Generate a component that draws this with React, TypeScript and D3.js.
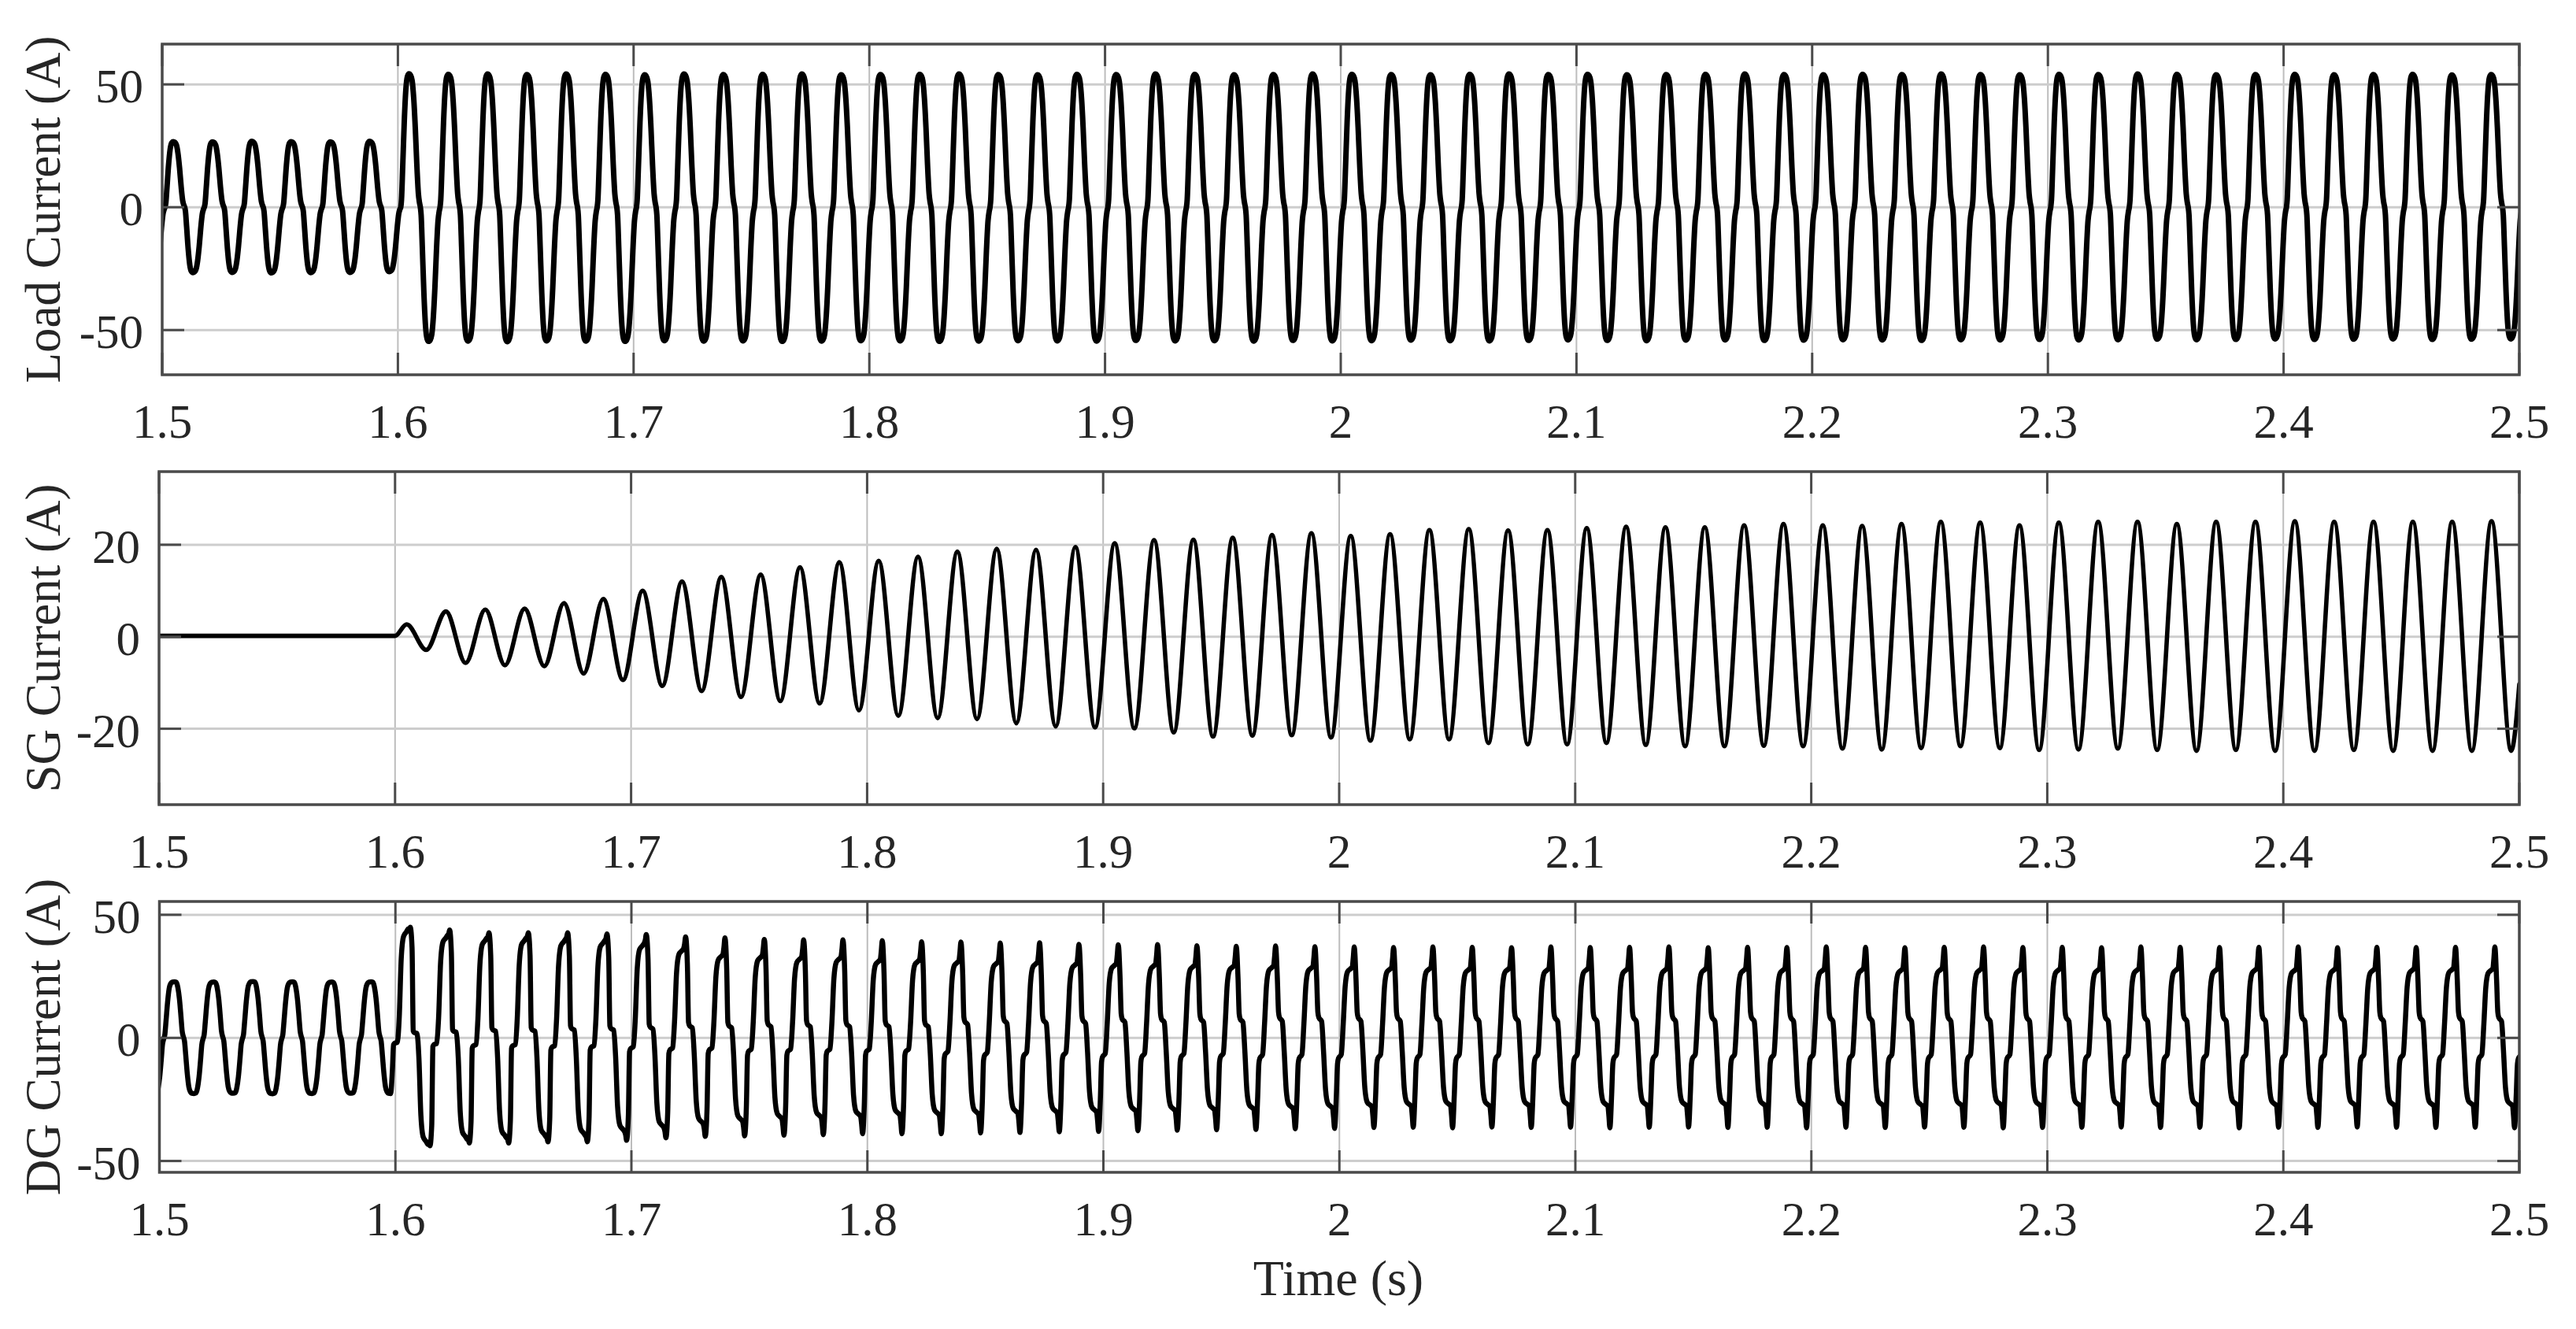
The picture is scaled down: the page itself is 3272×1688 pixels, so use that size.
import React from "react";
import * as d3 from "d3";

const W = 3272;
const H = 1688;

// ---------- axis data ----------
const xTicks = [1.5, 1.6, 1.7, 1.8, 1.9, 2.0, 2.1, 2.2, 2.3, 2.4, 2.5];
const xTickLabels = ["1.5", "1.6", "1.7", "1.8", "1.9", "2", "2.1", "2.2", "2.3", "2.4", "2.5"];
const loadTicks = [-50, 0, 50];
const sgTicks = [-20, 0, 20];
const dgTicks = [-50, 0, 50];

const FREQ = 60; // Hz, 60 cycles per second
const T_STEP = 1.6; // load step instant

// ---------- Load current ----------
// rising zero crossing of cycle index -1 ; cycle k starts at LOAD_START + k/FREQ
const LOAD_START = 1.5012 - 1 / 60;
// half-cycle shape (phase inside a period, normalised value)
const loadShapePhase = [0, 0.02, 0.05, 0.09, 0.13, 0.17, 0.21, 0.25, 0.29, 0.33, 0.37, 0.41, 0.45, 0.48];
const loadShapeValue = [0, 0.06, 0.3, 0.64, 0.88, 0.98, 1.0, 0.99, 0.95, 0.82, 0.6, 0.32, 0.1, 0.03];
// per-cycle positive peak (A), cycles -1 .. 60
const loadPeak = [
  26.7, 26.7, 26.6, 26.8, 26.7, 26.6, 26.8,
  54.3, 54.1, 54.2, 54.0, 54.2, 54.1, 53.9, 54.2, 54.0, 54.1,
  54.2, 53.9, 54.0, 54.1, 54.2, 54.0, 53.9, 54.1, 54.0, 54.2,
  54.1, 53.9, 54.0, 54.2, 54.1, 54.0, 53.9, 54.1, 54.2, 54.0,
  54.1, 53.9, 54.0, 54.1, 54.2, 54.0, 53.9, 54.1, 54.0, 54.2,
  54.0, 53.9, 54.1, 54.0, 54.2, 54.1, 53.9, 54.0, 54.1, 53.9,
  54.0, 54.1, 53.8, 54.0, 53.9,
];
// per-cycle negative peak (A), cycles -1 .. 60
const loadTrough = [
  -26.6, -26.6, -26.5, -26.7, -26.6, -26.5, -26.2,
  -54.6, -54.5, -54.7, -54.4, -54.5, -54.6, -54.3, -54.5, -54.4, -54.6,
  -54.5, -54.3, -54.4, -54.6, -54.5, -54.3, -54.4, -54.5, -54.2, -54.4,
  -54.3, -54.5, -54.2, -54.4, -54.3, -54.1, -54.3, -54.4, -54.2, -54.0,
  -54.2, -54.3, -54.1, -54.0, -54.2, -54.1, -53.9, -54.0, -54.2, -53.9,
  -54.0, -53.8, -54.0, -53.9, -53.7, -53.9, -53.8, -53.6, -53.8, -53.7,
  -53.6, -53.8, -53.7, -53.6, -53.7,
];

// ---------- SG current ----------
const sgBefore = [
  [1.5, 0.2],
  [1.6, 0.2],
];
const SG_FIRST_PEAK = 1.6049; // time of the first positive extreme after 1.6 s
// positive extremes per cycle
const sgPeak = [
  2.7,
  5.5, 5.9, 6.1, 7.3, 8.2, 10.0, 12.0, 13.0, 13.5, 15.1, 16.2, 16.5, 17.4, 18.5,
  19.1, 18.9, 19.5, 20.3, 21.0, 21.1, 21.5, 22.1, 22.5, 21.9, 22.3, 23.2, 23.4,
  23.1, 23.2, 23.6, 23.9, 23.8, 23.8, 24.2, 24.5, 24.2, 24.1, 24.5, 25.0, 24.8,
  24.2, 24.8, 25.0, 25.0, 24.5, 25.0, 25.0, 25.1, 25.0, 25.0, 25.0, 25.0, 25.1,
];
// negative extremes per cycle
const sgTrough = [
  -2.85,
  -5.7, -6.2, -6.4, -8.0, -9.4, -10.7, -11.8, -13.1, -14.0, -14.5, -16.0, -17.2, -17.7, -17.9,
  -18.8, -19.5, -19.7, -19.9, -20.8, -21.7, -21.5, -21.4, -21.9, -22.6, -22.3, -22.3, -23.1,
  -23.4, -23.4, -23.1, -23.5, -23.8, -23.8, -23.7, -23.8, -24.3, -24.5, -24.2, -23.8, -24.2,
  -24.6, -24.5, -24.3, -24.6, -24.8, -24.6, -24.8, -24.8, -24.6, -24.8, -24.8, -24.8, -24.8,
];
const sgEnd = [2.5, -10.3];

// ---------- DG current ----------
const DG_FIRST_SPIKE = 1.5063; // time of the positive extreme of cycle 0
// half-cycle shape after the step (phase after the previous opposite spike)
const dgShapePhase = [0.045, 0.075, 0.1, 0.17, 0.22, 0.27, 0.33, 0.4, 0.45, 0.475, 0.5];
const dgShapeFromPrev = [0.85, 0, 0, 0, 0, 0, 0, 0, 0, 0, 0];
const dgShapePlateau = [0, 1.4, 1.1, 0.9, 0, 0, 0, 0, 0, 0, 0];
const dgShapeShoulder = [0, 0, 0, 0, 0.2, 0.75, 0.96, 1.0, 1.03, 0.5, 0];
const dgShapeSpike = [0, 0, 0, 0, 0, 0, 0, 0, 0, 0.5, 1];
// half-cycle shape before the step (sine-like, from one extreme to the next)
const dgPreShapePhase = [0.05, 0.09, 0.13, 0.17, 0.2, 0.23, 0.26, 0.29, 0.33, 0.37, 0.41, 0.45, 0.5];
const dgPreShapeFromPrev = [0.99, 0.9, 0.7, 0.38, 0.12, 0.02, 0, 0, 0, 0, 0, 0, 0];
const dgPreShapeToNext = [0, 0, 0, 0, 0, 0, 0.06, 0.3, 0.64, 0.88, 0.97, 0.995, 1];
// per-cycle values, cycles 0 .. 60
const dgSpike = [
  22.8, 22.7, 22.9, 22.8, 22.7, 22.8,
  44.9, 43.8, 42.7, 42.7, 42.7, 42.2, 42.0, 41.0, 40.6, 40.0, 39.8, 39.8, 39.5, 39.0,
  38.9, 38.5, 38.6, 38.0, 37.8, 37.9, 37.4, 37.2, 37.3, 37.0,
  36.9, 36.7, 36.9, 36.8, 36.6, 36.9, 36.7, 36.8, 36.9, 36.6, 36.8, 36.7, 36.9, 36.8, 36.6, 36.8,
  36.9, 36.7, 36.8, 36.6, 36.9, 36.8, 36.7, 36.8, 36.9, 36.6, 36.8, 36.7, 36.8, 36.9, 36.7,
];
const dgShoulder = [
  22.3, 22.2, 22.4, 22.3, 22.2, 22.3,
  43.0, 40.5, 39.5, 39.5, 39.0, 38.5, 37.4, 35.3, 33.0, 32.6, 32.0, 32.0, 31.0, 31.0,
  30.5, 30.2, 30.0, 29.6, 29.4, 29.2, 28.9, 28.7, 28.5, 28.3,
  28.0, 27.8, 27.9, 27.6, 27.7, 27.5, 27.6, 27.4, 27.5, 27.6, 27.4, 27.5, 27.3, 27.5, 27.4, 27.6,
  27.5, 27.3, 27.5, 27.4, 27.5, 27.6, 27.4, 27.5, 27.3, 27.5, 27.4, 27.5, 27.6, 27.4, 27.5,
];
const dgTroughSpike = [
  -22.6, -22.5, -22.7, -22.6, -22.5, -22.6,
  -43.8, -42.7, -42.7, -42.2, -42.2, -41.6, -40.6, -40.0, -39.8, -39.5, -39.3, -38.9, -38.9, -38.9,
  -38.6, -38.4, -38.1, -38.0, -37.7, -37.5, -37.3, -37.2, -36.9, -36.8,
  -36.4, -36.3, -36.5, -36.2, -36.4, -36.3, -36.5, -36.3, -36.2, -36.4, -36.3, -36.5, -36.3, -36.4, -36.2, -36.3,
  -36.5, -36.4, -36.3, -36.2, -36.4, -36.3, -36.5, -36.3, -36.4, -36.2, -36.3, -36.4, -36.3, -36.5, -36.3,
];
const dgTroughShoulder = [
  -22.1, -22.0, -22.2, -22.1, -22.0, -22.1,
  -42.0, -40.0, -39.5, -39.0, -38.5, -37.0, -35.5, -34.0, -33.0, -32.0, -31.5, -31.0, -30.5, -30.5,
  -30.2, -29.8, -29.6, -29.3, -29.0, -28.8, -28.5, -28.3, -28.0, -27.8,
  -27.2, -27.0, -26.8, -27.1, -26.9, -26.7, -27.0, -26.8, -26.9, -26.6, -26.8, -26.9, -26.7, -26.8, -27.0, -26.8,
  -26.6, -26.9, -26.8, -26.7, -26.9, -26.8, -26.6, -26.8, -26.9, -26.7, -26.8, -26.9, -26.7, -26.8, -26.8,
];
const dgPlateau = [
  1.0, 1.0, 1.0, 1.0, 1.0, 1.0,
  2.0, 2.5, 3.0, 3.0, 3.5, 3.5, 4.0, 4.5, 4.5, 5.0, 5.0, 5.0, 5.0, 5.0,
  6.0, 6.5, 6.5, 6.5, 7.0, 7.0, 7.0, 7.0, 7.5, 7.5,
  7.5, 7.5, 7.5, 7.5, 7.5, 7.5, 7.5, 7.5, 7.5, 7.5, 7.5, 7.5, 7.5, 7.5, 7.5, 7.5,
  7.5, 7.5, 7.5, 7.5, 7.5, 7.5, 7.5, 7.5, 7.5, 7.5, 7.5, 7.5, 7.5, 7.5, 7.5,
];

// ---------- build series from the read values ----------
type Pt = [number, number];

function buildLoad(): Pt[] {
  const pts: Pt[] = [];
  loadPeak.forEach((pk, i) => {
    const t0 = LOAD_START + i / FREQ;
    loadShapePhase.forEach((ph, j) => pts.push([t0 + ph / FREQ, loadShapeValue[j] * pk]));
    loadShapePhase.forEach((ph, j) =>
      pts.push([t0 + (0.5 + ph) / FREQ, loadShapeValue[j] * loadTrough[i]])
    );
  });
  return pts;
}

function buildSG(): Pt[] {
  const pts: Pt[] = sgBefore.map((d) => [d[0], d[1]] as Pt);
  sgPeak.forEach((pk, i) => {
    const tp = SG_FIRST_PEAK + i / FREQ;
    pts.push([tp, pk]);
    pts.push([tp + 0.5 / FREQ, sgTrough[i]]);
  });
  pts.push([sgEnd[0], sgEnd[1]]);
  return pts;
}

function buildDG(): Pt[] {
  const pts: Pt[] = [];
  pts.push([DG_FIRST_SPIKE - 0.5 / FREQ, dgTroughSpike[0]]);
  dgSpike.forEach((S, k) => {
    const ts = DG_FIRST_SPIKE + k / FREQ;
    const Hp = dgShoulder[k];
    const Hn = -dgTroughShoulder[k];
    const Sn = -dgTroughSpike[k];
    const kp = Math.max(0, k - 1);
    const P = dgPlateau[k];
    if (ts < T_STEP) {
      const prevAmp = -dgTroughSpike[kp];
      dgPreShapePhase.forEach((ph, j) => {
        pts.push([ts - 0.5 / FREQ + ph / FREQ, dgPreShapeToNext[j] * S - dgPreShapeFromPrev[j] * prevAmp]);
      });
      dgPreShapePhase.forEach((ph, j) => {
        pts.push([ts + ph / FREQ, -(dgPreShapeToNext[j] * Sn - dgPreShapeFromPrev[j] * S)]);
      });
      return;
    }
    const HnPrev = -dgTroughShoulder[kp];
    const prevWasPre = DG_FIRST_SPIKE + kp / FREQ < T_STEP;
    // positive half: from previous negative spike up to this positive spike
    dgShapePhase.forEach((ph, j) => {
      const fromPrev = prevWasPre ? dgShapeFromPrev[j] * 0.7 : dgShapeFromPrev[j];
      const v = dgShapeShoulder[j] * Hp + dgShapeSpike[j] * S - dgShapePlateau[j] * P - fromPrev * HnPrev;
      pts.push([ts - 0.5 / FREQ + ph / FREQ, v]);
    });
    // negative half: from this positive spike down to the negative spike
    dgShapePhase.forEach((ph, j) => {
      const v = dgShapeShoulder[j] * Hn + dgShapeSpike[j] * Sn - dgShapePlateau[j] * P - dgShapeFromPrev[j] * Hp;
      pts.push([ts + ph / FREQ, -v]);
    });
  });
  return pts;
}

const FONT = "'Liberation Serif', 'Times New Roman', Times, serif";
const TXT = "#262626";
const AXC = "#4a4a4a";

export default function App() {
  const panels = [
    {
      key: "load",
      label: "Load Current (A)",
      x0: 206,
      x1: 3200,
      y0: 56,
      y1: 476,
      domain: [-68.2, 66.4],
      ticks: loadTicks,
      data: buildLoad(),
      lw: 7,
    },
    {
      key: "sg",
      label: "SG Current (A)",
      x0: 202,
      x1: 3200,
      y0: 599,
      y1: 1022,
      domain: [-36.5, 35.9],
      ticks: sgTicks,
      data: buildSG(),
      lw: 5.6,
    },
    {
      key: "dg",
      label: "DG Current (A)",
      x0: 202.5,
      x1: 3200,
      y0: 1145,
      y1: 1489,
      domain: [-54.6, 55.4],
      ticks: dgTicks,
      data: buildDG(),
      lw: 6.5,
    },
  ];
  const TICK = 28;

  return (
    <svg
      width={W}
      height={H}
      viewBox={`0 0 ${W} ${H}`}
      style={{ position: "absolute", left: 0, top: 0, background: "#fff" }}
    >
      <rect x={0} y={0} width={W} height={H} fill="#fff" />
      {panels.map((p) => {
        const x = d3.scaleLinear().domain([1.5, 2.5]).range([p.x0, p.x1]);
        const y = d3.scaleLinear().domain(p.domain).range([p.y1, p.y0]);
        const line = d3
          .line<Pt>()
          .x((d) => x(d[0]))
          .y((d) => y(d[1]))
          .curve(d3.curveMonotoneX);
        const clipId = `clip-${p.key}`;
        return (
          <g key={p.key}>
            <defs>
              <clipPath id={clipId}>
                <rect x={p.x0} y={p.y0} width={p.x1 - p.x0} height={p.y1 - p.y0} />
              </clipPath>
            </defs>
            {/* grid */}
            {xTicks.map((t) => (
              <line
                key={`gx${t}`}
                x1={x(t)}
                x2={x(t)}
                y1={p.y0}
                y2={p.y1}
                stroke="#bdbdbd"
                strokeWidth={2}
              />
            ))}
            {p.ticks.map((v) => (
              <line
                key={`gy${v}`}
                x1={p.x0}
                x2={p.x1}
                y1={y(v)}
                y2={y(v)}
                stroke="#cdcdcd"
                strokeWidth={3}
              />
            ))}
            {/* data */}
            <path
              d={line(p.data) || ""}
              fill="none"
              stroke="#000"
              strokeWidth={p.lw}
              strokeLinejoin="round"
              strokeLinecap="round"
              clipPath={`url(#${clipId})`}
            />
            {/* ticks (inside, all four sides) */}
            {xTicks.map((t) => (
              <g key={`tx${t}`}>
                <line x1={x(t)} x2={x(t)} y1={p.y1} y2={p.y1 - TICK} stroke={AXC} strokeWidth={3} />
                <line x1={x(t)} x2={x(t)} y1={p.y0} y2={p.y0 + TICK} stroke={AXC} strokeWidth={3} />
              </g>
            ))}
            {p.ticks.map((v) => (
              <g key={`ty${v}`}>
                <line x1={p.x0} x2={p.x0 + TICK} y1={y(v)} y2={y(v)} stroke={AXC} strokeWidth={3} />
                <line x1={p.x1} x2={p.x1 - TICK} y1={y(v)} y2={y(v)} stroke={AXC} strokeWidth={3} />
              </g>
            ))}
            {/* box */}
            <rect
              x={p.x0}
              y={p.y0}
              width={p.x1 - p.x0}
              height={p.y1 - p.y0}
              fill="none"
              stroke={AXC}
              strokeWidth={3.5}
            />
            {/* tick labels */}
            {xTicks.map((t, i) => (
              <text
                key={`lx${t}`}
                x={x(t)}
                y={p.y1 + 80}
                textAnchor="middle"
                fontFamily={FONT}
                fontSize={61}
                fill={TXT}
              >
                {xTickLabels[i]}
              </text>
            ))}
            {p.ticks.map((v) => (
              <text
                key={`ly${v}`}
                x={p.x0 - 24}
                y={y(v) + 23}
                textAnchor="end"
                fontFamily={FONT}
                fontSize={61}
                fill={TXT}
              >
                {String(v)}
              </text>
            ))}
            {/* y label */}
            <text
              transform={`translate(76, ${(p.y0 + p.y1) / 2}) rotate(-90)`}
              textAnchor="middle"
              fontFamily={FONT}
              fontSize={63}
              fill={TXT}
            >
              {p.label}
            </text>
          </g>
        );
      })}
      <text x={1700} y={1645} textAnchor="middle" fontFamily={FONT} fontSize={64} fill={TXT}>
        Time (s)
      </text>
    </svg>
  );
}
